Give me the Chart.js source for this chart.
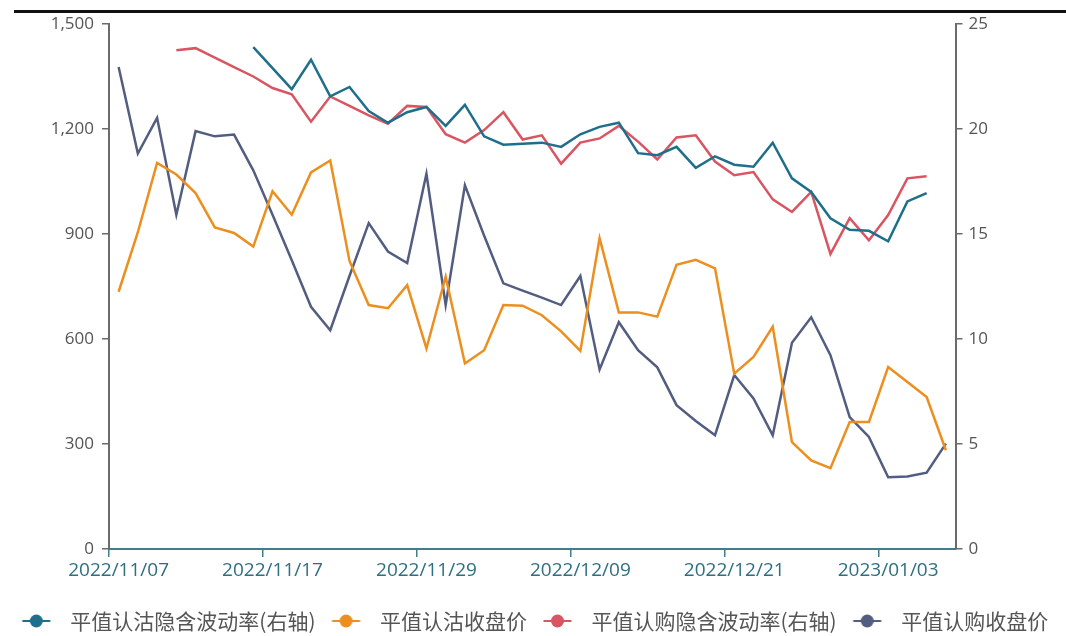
<!DOCTYPE html>
<html>
<head>
<meta charset="utf-8">
<script src="https://cdn.jsdelivr.net/npm/chart.js@4"></script>
<style>
  body { margin: 0; background: #fff; }
  #wrap { position: relative; width: 1066px; height: 636px; }
  #topline { position: absolute; top: 10px; left: 14px; right: 0; height: 3px; background: #111; }
</style>
</head>
<body>
<div id="wrap">
  <canvas id="grafico" width="1066" height="636"></canvas>
  <div id="topline"></div>
</div>
<script>
var datas = [
    '2022/11/07', '2022/11/08', '2022/11/09', '2022/11/10', '2022/11/11',
    '2022/11/14', '2022/11/15', '2022/11/16', '2022/11/17', '2022/11/18',
    '2022/11/21', '2022/11/22', '2022/11/23', '2022/11/24', '2022/11/25',
    '2022/11/28', '2022/11/29', '2022/11/30', '2022/12/01', '2022/12/02',
    '2022/12/05', '2022/12/06', '2022/12/07', '2022/12/08', '2022/12/09',
    '2022/12/12', '2022/12/13', '2022/12/14', '2022/12/15', '2022/12/16',
    '2022/12/19', '2022/12/20', '2022/12/21', '2022/12/22', '2022/12/23',
    '2022/12/26', '2022/12/27', '2022/12/28', '2022/12/29', '2022/12/30',
    '2023/01/03', '2023/01/04', '2023/01/05', '2023/01/06'
];

// 平值认沽隐含波动率 (右轴)
var ivPut = [
    null, null, null, null, null, null, null,
    23.9, 22.9, 21.9, 23.3, 21.55, 22.0, 20.85, 20.3, 20.8, 21.05, 20.15,
    21.15, 19.65, 19.25, 19.3, 19.35, 19.15, 19.75, 20.1, 20.3, 18.85,
    18.75, 19.15, 18.15, 18.7, 18.3, 18.2, 19.35, 17.65, 17.0, 15.75,
    15.2, 15.15, 14.65, 16.55, 16.95, null
];

// 平值认沽收盘价
var closePut = [
    735, 905, 1103, 1070, 1017, 919, 903, 864, 1022, 955, 1076, 1110,
    823, 697, 688, 754, 573, 778, 530, 568, 697, 695, 668, 622, 566, 888,
    676, 676, 664, 812, 826, 802, 501, 549, 635, 305, 253, 231, 363, 363,
    520, 477, 434, 282
];

// 平值认购隐含波动率 (右轴)
var ivCall = [
    null, null, null,
    23.75, 23.85, 23.4, 22.95, 22.5, 21.95, 21.65, 20.35, 21.55, 21.1,
    20.65, 20.25, 21.1, 21.05, 19.75, 19.35, 19.95, 20.8, 19.5, 19.7,
    18.35, 19.35, 19.55, 20.15, 19.4, 18.55, 19.6, 19.7, 18.45, 17.8,
    17.95, 16.65, 16.05, 17.0, 14.05, 15.75, 14.7, 15.9, 17.65, 17.75, null
];

// 平值认购收盘价
var closeCall = [
    1377, 1130, 1232, 955, 1194, 1179, 1184, 1082, 955, 825, 692, 625,
    780, 931, 850, 817, 1072, 697, 1039, 895, 759, 738, 718, 697, 780, 513,
    648, 568, 519, 411, 366, 325, 497, 430, 325, 589, 662, 554, 377, 320,
    205, 207, 218, 301
];

var cores = {
    ivPut: '#1f6f8b',
    closePut: '#ec8f1f',
    ivCall: '#d95562',
    closeCall: '#535d80'
};

// icone da legenda: linha com bolinha
function icone(cor) {
    var c = document.createElement('canvas');
    c.width = 42;
    c.height = 16;
    var g = c.getContext('2d');
    g.strokeStyle = cor;
    g.lineWidth = 2;
    g.beginPath();
    g.moveTo(4.5, 8);
    g.lineTo(32.5, 8);
    g.stroke();
    g.fillStyle = cor;
    g.beginPath();
    g.arc(18.5, 8, 6.5, 0, Math.PI * 2);
    g.fill();
    return c;
}

function serie(label, data, cor, eixo) {
    return {
        label: label,
        data: data,
        borderColor: cor,
        backgroundColor: cor,
        borderWidth: 2.5,
        pointRadius: 0,
        pointHoverRadius: 0,
        tension: 0,
        yAxisID: eixo,
        icon: icone(cor)
    };
}

var eixoCinza = '#6b6b6b';
var eixoX = '#3f7f8c';

new Chart(document.getElementById('grafico'), {
    type: 'line',
    data: {
        labels: datas,
        datasets: [
            serie('平值认沽隐含波动率(右轴)', ivPut, cores.ivPut, 'y1'),
            serie('平值认沽收盘价', closePut, cores.closePut, 'y'),
            serie('平值认购隐含波动率(右轴)', ivCall, cores.ivCall, 'y1'),
            serie('平值认购收盘价', closeCall, cores.closeCall, 'y')
        ]
    },
    options: {
        responsive: false,
        animation: false,
        layout: { padding: { top: 24, bottom: -5.5, left: 0, right: 0 } },
        plugins: {
            tooltip: { enabled: false },
            legend: {
                position: 'bottom',
                labels: {
                    usePointStyle: true,
                    pointStyleWidth: 42,
                    padding: 12,
                    color: '#555',
                    font: { family: '"Noto Sans CJK SC", "Noto Sans", sans-serif', size: 21 },
                    generateLabels: function (chart) {
                        return chart.data.datasets.map(function (ds, i) {
                            return {
                                text: ds.label,
                                fillStyle: ds.borderColor,
                                strokeStyle: ds.borderColor,
                                fontColor: '#555',
                                pointStyle: ds.icon,
                                lineWidth: 0,
                                hidden: false,
                                datasetIndex: i
                            };
                        });
                    }
                }
            }
        },
        scales: {
            x: {
                offset: true,
                afterFit: function (s) { s.height = 49.5; },
                border: { color: eixoX, width: 2 },
                grid: {
                    offset: true,
                    drawOnChartArea: false,
                    tickLength: 8,
                    lineWidth: 1.5,
                    color: function (ctx) { return ctx.index % 8 === 0 ? eixoX : 'rgba(0,0,0,0)'; }
                },
                ticks: {
                    autoSkip: false,
                    maxRotation: 0,
                    padding: 2,
                    color: '#2e6f80',
                    font: { family: '"Open Sans", sans-serif', size: 19 },
                    callback: function (v, i) { return i % 8 === 0 ? datas[i] : ''; }
                }
            },
            y: {
                position: 'left',
                min: 0,
                max: 1500,
                afterFit: function (s) { s.width = 109; },
                border: { color: eixoCinza, width: 2 },
                grid: { drawOnChartArea: false, tickLength: 7, color: eixoCinza, lineWidth: 1.5 },
                ticks: {
                    stepSize: 300,
                    padding: 8,
                    color: '#555',
                    font: { family: '"Open Sans", sans-serif', size: 17 }
                }
            },
            y1: {
                position: 'right',
                min: 0,
                max: 25,
                afterFit: function (s) { s.width = 110.5; },
                border: { color: eixoCinza, width: 2 },
                grid: { drawOnChartArea: false, tickLength: 7, color: eixoCinza, lineWidth: 1.5 },
                ticks: {
                    stepSize: 5,
                    padding: 6,
                    color: '#555',
                    font: { family: '"Open Sans", sans-serif', size: 17 }
                }
            }
        }
    }
});
</script>
</body>
</html>
